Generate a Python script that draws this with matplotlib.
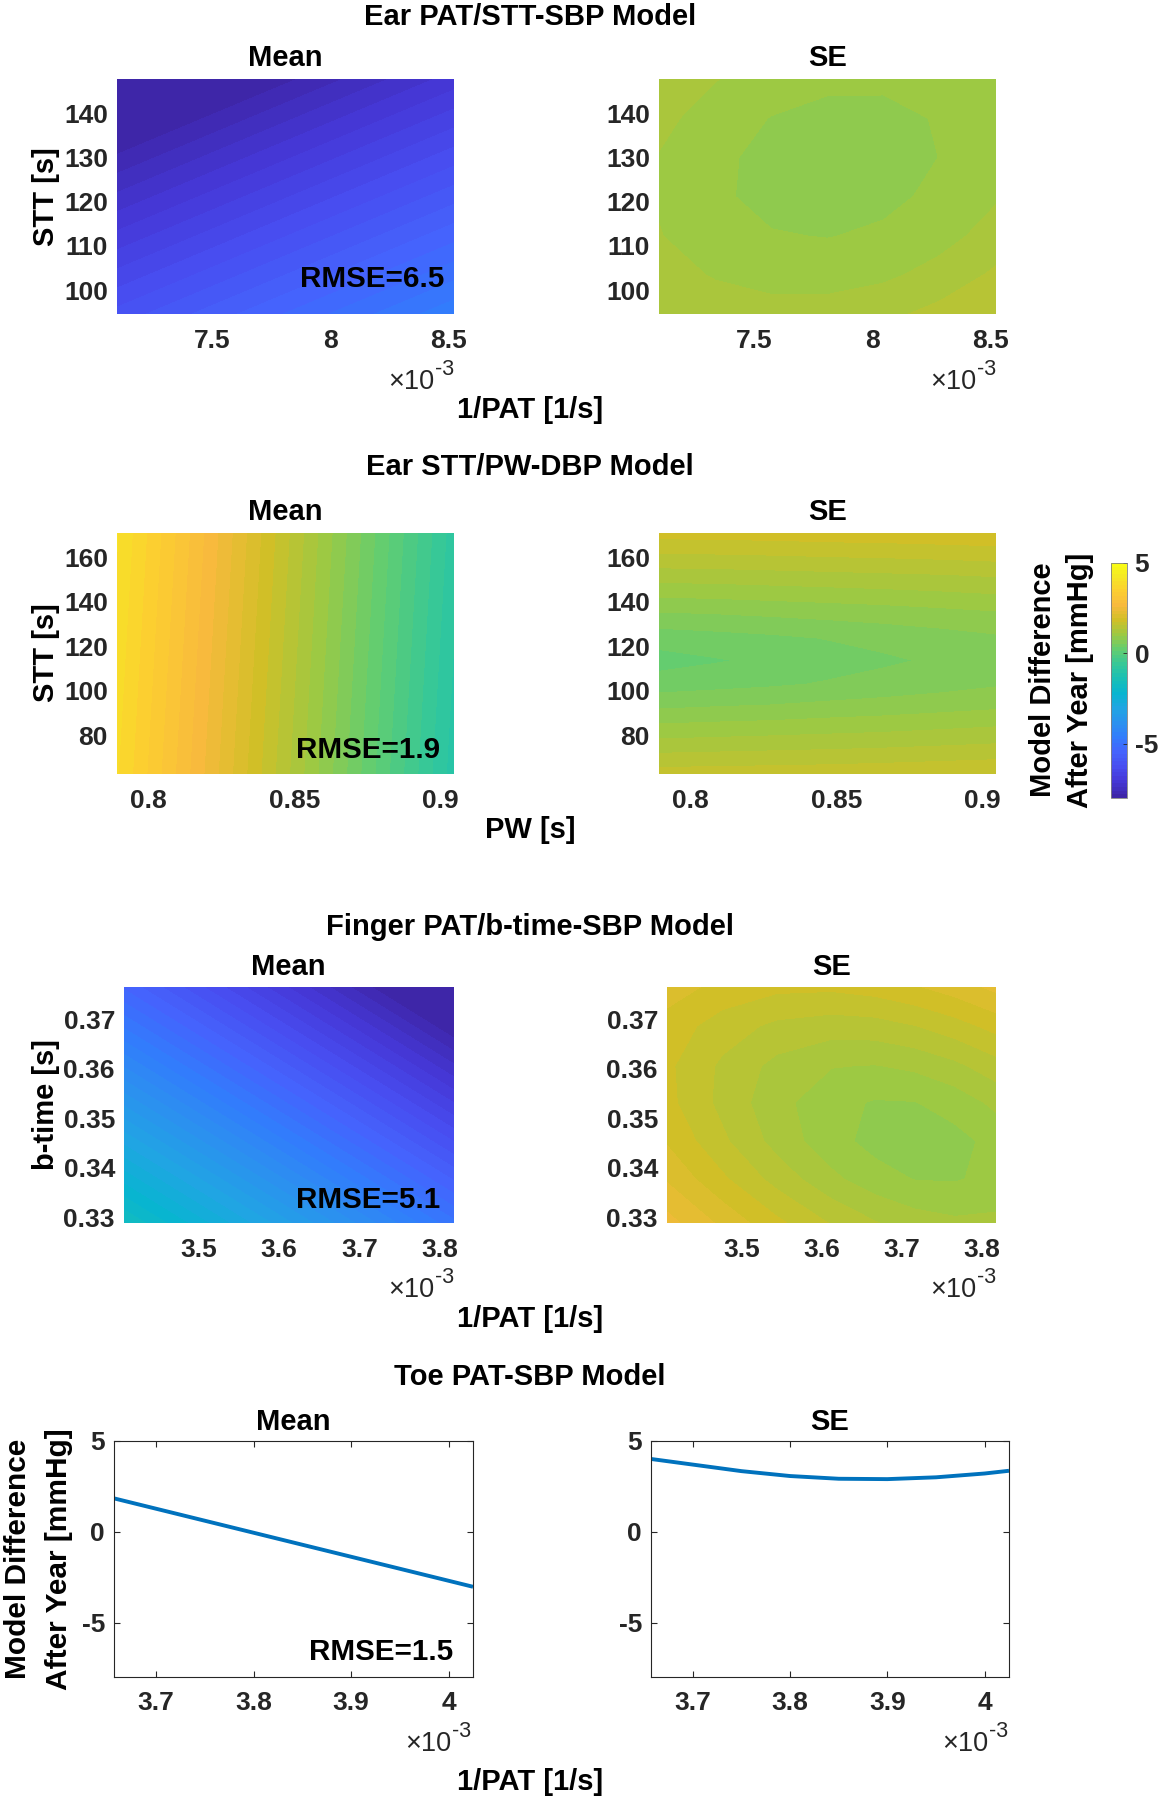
import numpy as np
import matplotlib
matplotlib.use("Agg")
import matplotlib.pyplot as plt
from matplotlib.colors import LinearSegmentedColormap, Normalize
from matplotlib.ticker import FuncFormatter

W, H = 1164, 1800

# ---------------- data ----------------
# Ear PAT/STT-SBP model
ear1_x = [0.007094, 0.007809, 0.008524]        # 1/PAT [1/s]
ear1_y = [94.6, 121.2, 147.8]                  # STT [s]
ear1_mean = [[-6.1, -5.35, -4.6],
             [-7.35, -6.6, -5.85],
             [-8.6, -7.85, -7.1]]
ear1_se_x = [0.007094, 0.007332, 0.007571, 0.007809, 0.008047, 0.008286, 0.008524]
ear1_se_y = [94.6, 103.5, 112.3, 121.2, 130.1, 138.9, 147.8]
ear1_se = [[1.32, 1.27, 1.22, 1.23, 1.29, 1.41, 1.54],
           [1.24, 1.12, 1.06, 1.05, 1.10, 1.21, 1.38],
           [1.15, 1.02, 0.95, 0.93, 0.97, 1.07, 1.22],
           [1.12, 0.97, 0.88, 0.86, 0.89, 0.98, 1.12],
           [1.13, 0.98, 0.88, 0.84, 0.86, 0.94, 1.08],
           [1.20, 1.04, 0.93, 0.88, 0.89, 0.95, 1.08],
           [1.33, 1.15, 1.04, 0.98, 0.97, 1.03, 1.14]]

# Ear STT/PW-DBP model
ear2_x = [0.7891, 0.8469, 0.9046]              # PW [s]
ear2_y = [62.5, 116.7, 170.8]                  # STT [s]
ear2_mean = [[3.8, 1.4, -1.0],
             [3.9, 1.5, -0.9],
             [4.0, 1.6, -0.8]]
ear2_se_x = [0.7891, 0.8084, 0.8276, 0.8469, 0.8661, 0.8854, 0.9046]
ear2_se_y = [62.5, 77.6, 92.5, 102.9, 113.5, 123.6, 135.5, 151.8, 170.8]
ear2_se = [[1.64, 1.65, 1.66, 1.67, 1.69, 1.71, 1.73],
           [1.16, 1.18, 1.20, 1.22, 1.24, 1.27, 1.30],
           [0.71, 0.74, 0.76, 0.80, 0.83, 0.87, 0.91],
           [0.42, 0.46, 0.50, 0.55, 0.60, 0.65, 0.71],
           [0.25, 0.31, 0.37, 0.44, 0.50, 0.56, 0.62],
           [0.41, 0.45, 0.49, 0.54, 0.59, 0.64, 0.70],
           [0.74, 0.76, 0.79, 0.82, 0.85, 0.89, 0.93],
           [1.24, 1.25, 1.27, 1.29, 1.31, 1.33, 1.36],
           [1.83, 1.84, 1.85, 1.87, 1.88, 1.90, 1.92]]

# Finger PAT/b-time-SBP model
fin_x = [0.0034072, 0.0036125, 0.0038177]      # 1/PAT [1/s]
fin_y = [0.3288, 0.3527, 0.3766]               # b-time [s]
fin_mean = [[-1.7, -3.3, -4.9],
            [-3.55, -5.15, -6.75],
            [-5.4, -7.0, -8.6]]
fin_se_x = [0.0034072, 0.0034756, 0.0035440, 0.0036125, 0.0036664, 0.0037161, 0.0037659, 0.0038177]
fin_se_y = [0.3288, 0.3377, 0.3454, 0.3532, 0.3606, 0.3687, 0.3766]
fin_se = [[2.44, 2.11, 1.80, 1.53, 1.36, 1.24, 1.18, 1.19],
          [2.13, 1.79, 1.47, 1.19, 1.02, 0.93, 0.92, 0.99],
          [1.93, 1.59, 1.27, 1.01, 0.87, 0.83, 0.87, 1.00],
          [1.81, 1.49, 1.21, 1.00, 0.92, 0.93, 1.02, 1.19],
          [1.79, 1.51, 1.28, 1.15, 1.13, 1.18, 1.29, 1.46],
          [1.87, 1.65, 1.50, 1.44, 1.46, 1.54, 1.66, 1.82],
          [2.05, 1.89, 1.80, 1.79, 1.84, 1.93, 2.05, 2.21]]

# Toe PAT-SBP model
toe_x = [0.003657, 0.004025]
toe_mean = [1.84, -3.03]
toe_se_x = [0.003657, 0.0037, 0.00375, 0.0038, 0.00385, 0.0039, 0.00395, 0.004, 0.004025]
toe_se = [4.01, 3.70, 3.34, 3.07, 2.92, 2.90, 3.00, 3.21, 3.36]

rmse = ['6.5', '1.9', '5.1', '1.5']

# parula (MATLAB) anchor colours
parula_anchors = [
    (0.2422, 0.1504, 0.6603), (0.2706, 0.2147, 0.8364), (0.2813, 0.3006, 0.9414),
    (0.2699, 0.3892, 0.9906), (0.1963, 0.4847, 0.9892), (0.1687, 0.5703, 0.9359),
    (0.1248, 0.6459, 0.8883), (0.0297, 0.7082, 0.8163), (0.0964, 0.7500, 0.7120),
    (0.2161, 0.7843, 0.5923), (0.3909, 0.8029, 0.4354), (0.6174, 0.7876, 0.2612),
    (0.8203, 0.7498, 0.1535), (0.9728, 0.7298, 0.2394), (0.9892, 0.8136, 0.1885),
    (0.9597, 0.9135, 0.1423), (0.9769, 0.9839, 0.0805)]
parula_pos = [0, 4, 8, 12, 16, 20, 24, 28, 32, 36, 40, 44, 48, 52, 56, 60, 63]
parula = LinearSegmentedColormap.from_list(
    'parula', [(p / 63, c) for p, c in zip(parula_pos, parula_anchors)], N=64)

CLIM = (-8, 5)
# 64 bands inside the colour limits plus one catch-all band on each side
levels = np.concatenate([[-50], np.linspace(CLIM[0], CLIM[1], 65), [50]])
norm = Normalize(*CLIM, clip=True)

plt.rcParams['font.family'] = ['Liberation Sans', 'DejaVu Sans']
plt.rcParams['font.weight'] = 'bold'
plt.rcParams['axes.unicode_minus'] = False

TICK_FS = 19
TITLE_FS = 21
LABEL_FS = 21
RMSE_FS = 21.3
DARK = '#262626'

fig = plt.figure(figsize=(W / 100, H / 100), dpi=100)


def box(l, t, r, b):
    return [l / W, 1 - b / H, (r - l) / W, (b - t) / H]


def put(x, y, s, **kw):
    kw.setdefault('fontweight', 'bold')
    fig.text(x / W, 1 - y / H, s, **kw)


milli = FuncFormatter(lambda v, p: f'{v * 1000:g}')


def heat(b, x, y, z, xticks, yticks, xfmt=None):
    ax = fig.add_axes(box(*b))
    ax.contourf(x, y, np.array(z), levels=levels, cmap=parula, norm=norm,
                antialiased=False)
    ax.set_xlim(x[0], x[-1])
    ax.set_ylim(y[0], y[-1])
    ax.set_xticks(xticks)
    ax.set_yticks(yticks)
    if xfmt is not None:
        ax.xaxis.set_major_formatter(xfmt)
    else:
        ax.xaxis.set_major_formatter(FuncFormatter(lambda v, p: f'{v:g}'))
    ax.tick_params(length=0, labelsize=TICK_FS, colors=DARK)
    ax.tick_params(axis='x', pad=10.5)
    ax.tick_params(axis='y', pad=6.5)
    for s in ax.spines.values():
        s.set_visible(False)
    return ax


def line(b, x, y):
    ax = fig.add_axes(box(*b))
    ax.plot(x, y, color=(0, 0.447, 0.741), lw=2.8, solid_capstyle='butt')
    ax.set_xlim(toe_x[0], toe_x[-1])
    ax.set_ylim(-8, 5)
    ax.set_xticks([0.0037, 0.0038, 0.0039, 0.004])
    ax.set_yticks([-5, 0, 5])
    ax.xaxis.set_major_formatter(milli)
    ax.tick_params(direction='in', length=4, width=0.8, top=True, right=True,
                   labelsize=TICK_FS, colors=DARK)
    ax.tick_params(axis='x', pad=10)
    ax.tick_params(axis='y', pad=6.5)
    for s in ax.spines.values():
        s.set_color('#262626')
        s.set_linewidth(0.8)
    return ax


def exponent(right, base):
    put(right - 20, base, '×10', ha='right', va='baseline', fontsize=19.5,
        color=DARK, fontweight='normal')
    put(right, base - 14, '-3', ha='right', va='baseline', fontsize=15.5,
        color=DARK, fontweight='normal')


# ---------------- row 1 ----------------
put(530, 25, 'Ear PAT/STT-SBP Model', ha='center', va='baseline', fontsize=TITLE_FS)
put(285, 65.7, 'Mean', ha='center', va='baseline', fontsize=TITLE_FS)
put(827.5, 65.7, 'SE', ha='center', va='baseline', fontsize=TITLE_FS)
heat((117, 79, 454, 314), ear1_x, ear1_y, ear1_mean,
     [0.0075, 0.008, 0.0085], [100, 110, 120, 130, 140], milli)
heat((659, 79, 996, 314), ear1_se_x, ear1_se_y, ear1_se,
     [0.0075, 0.008, 0.0085], [100, 110, 120, 130, 140], milli)
put(444, 287, 'RMSE=' + rmse[0], ha='right', va='baseline', fontsize=RMSE_FS)
exponent(454, 389)
exponent(996, 389)
put(530, 418, '1/PAT [1/s]', ha='center', va='baseline', fontsize=LABEL_FS)
put(46, 196.5, 'STT [s]', rotation=90, ha='center', va='center', fontsize=LABEL_FS)

# ---------------- row 2 ----------------
put(530, 475, 'Ear STT/PW-DBP Model', ha='center', va='baseline', fontsize=TITLE_FS)
put(285, 520, 'Mean', ha='center', va='baseline', fontsize=TITLE_FS)
put(827.5, 520, 'SE', ha='center', va='baseline', fontsize=TITLE_FS)
heat((117, 533, 454, 774), ear2_x, ear2_y, ear2_mean,
     [0.8, 0.85, 0.9], [80, 100, 120, 140, 160])
heat((659, 533, 996, 774), ear2_se_x, ear2_se_y, ear2_se,
     [0.8, 0.85, 0.9], [80, 100, 120, 140, 160])
put(440, 758, 'RMSE=' + rmse[1], ha='right', va='baseline', fontsize=RMSE_FS)
put(530, 838, 'PW [s]', ha='center', va='baseline', fontsize=LABEL_FS)
put(46, 653, 'STT [s]', rotation=90, ha='center', va='center', fontsize=LABEL_FS)

# colorbar
cax = fig.add_axes(box(1111, 563, 1127, 798))
sm = plt.cm.ScalarMappable(norm=Normalize(*CLIM), cmap=parula)
cb = fig.colorbar(sm, cax=cax, ticks=[-5, 0, 5])
cb.outline.set_edgecolor('#808080')
cb.outline.set_linewidth(0.6)
cax.tick_params(direction='in', length=3, width=0.6, labelsize=TICK_FS,
                colors=DARK, pad=5.5)
put(1043, 680, 'Model Difference', rotation=90, ha='center', va='center', fontsize=LABEL_FS)
put(1080, 680, 'After Year [mmHg]', rotation=90, ha='center', va='center', fontsize=LABEL_FS)

# ---------------- row 3 ----------------
put(530, 935, 'Finger PAT/b-time-SBP Model', ha='center', va='baseline', fontsize=TITLE_FS)
put(288.5, 975, 'Mean', ha='center', va='baseline', fontsize=TITLE_FS)
put(831.7, 975, 'SE', ha='center', va='baseline', fontsize=TITLE_FS)
fin_xt = [0.0035, 0.0036, 0.0037, 0.0038]
fin_yt = [0.33, 0.34, 0.35, 0.36, 0.37]
heat((124, 987, 454, 1223), fin_x, fin_y, fin_mean, fin_xt, fin_yt, milli)
heat((667, 987, 996, 1223), fin_se_x, fin_se_y, fin_se, fin_xt, fin_yt, milli)
put(440, 1208, 'RMSE=' + rmse[2], ha='right', va='baseline', fontsize=RMSE_FS)
exponent(454, 1297)
exponent(996, 1297)
put(530, 1327, '1/PAT [1/s]', ha='center', va='baseline', fontsize=LABEL_FS)
put(46, 1105, 'b-time [s]', rotation=90, ha='center', va='center', fontsize=LABEL_FS)

# ---------------- row 4 ----------------
put(530, 1385, 'Toe PAT-SBP Model', ha='center', va='baseline', fontsize=TITLE_FS)
put(293.3, 1430, 'Mean', ha='center', va='baseline', fontsize=TITLE_FS)
put(830, 1430, 'SE', ha='center', va='baseline', fontsize=TITLE_FS)
line((114, 1441, 473, 1677), toe_x, toe_mean)
line((651, 1441, 1009, 1677), toe_se_x, toe_se)
put(453.5, 1660, 'RMSE=' + rmse[3], ha='right', va='baseline', fontsize=RMSE_FS)
exponent(471, 1751)
exponent(1008, 1751)
put(530, 1790, '1/PAT [1/s]', ha='center', va='baseline', fontsize=LABEL_FS)
put(18.2, 1559, 'Model Difference', rotation=90, ha='center', va='center', fontsize=21.5)
put(59.3, 1559, 'After Year [mmHg]', rotation=90, ha='center', va='center', fontsize=21.5)

fig.savefig('out.png', dpi=100, facecolor='white')
